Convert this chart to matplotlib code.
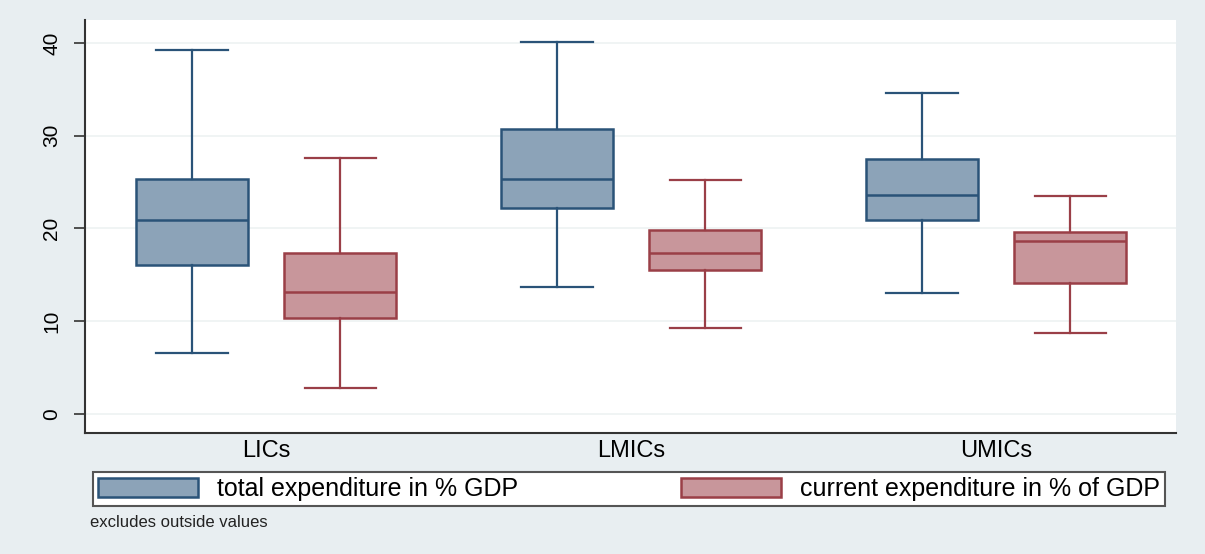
import matplotlib
matplotlib.use("Agg")
import matplotlib.pyplot as plt
from matplotlib.patches import Patch

# Income groups and box summaries (whisker low, Q1, median, Q3, whisker high)
groups = ["LICs", "LMICs", "UMICs"]
series_names = ["total expenditure in % GDP", "current expenditure in % of GDP"]

total_low = [6.6, 13.7, 13.0]
total_q1 = [16.1, 22.2, 20.9]
total_med = [20.9, 25.3, 23.6]
total_q3 = [25.3, 30.7, 27.5]
total_high = [39.2, 40.1, 34.6]

current_low = [2.8, 9.3, 8.7]
current_q1 = [10.3, 15.5, 14.1]
current_med = [13.1, 17.3, 18.6]
current_q3 = [17.3, 19.8, 19.6]
current_high = [27.6, 25.2, 23.5]

note = "excludes outside values"
yticks = [0, 10, 20, 30, 40]

bg = "#e8eef1"
navy_edge = "#2a5378"
navy_fill = "#8ca3b8"
red_edge = "#9a3f47"
red_fill = "#c8969b"


def make_stats(low, q1, med, q3, high):
    return [dict(whislo=a, q1=b, med=c, q3=d, whishi=e, fliers=[])
            for a, b, c, d, e in zip(low, q1, med, q3, high)]


plt.rcParams["font.family"] = ["Liberation Sans", "DejaVu Sans"]

fig = plt.figure(figsize=(12.05, 5.54), dpi=100, facecolor=bg)
ax = fig.add_axes([0.0705, 0.2184, 0.9055, 0.7455])
ax.set_facecolor("white")

offset = 0.203
width = 0.307
cap = 0.195
centers = list(range(len(groups)))

for stats, shift, edge, fill in [
    (make_stats(total_low, total_q1, total_med, total_q3, total_high), -offset, navy_edge, navy_fill),
    (make_stats(current_low, current_q1, current_med, current_q3, current_high), offset, red_edge, red_fill),
]:
    ax.bxp(stats, positions=[c + shift for c in centers], widths=width,
           capwidths=cap, patch_artist=True, showfliers=False,
           boxprops=dict(facecolor=fill, edgecolor=edge, linewidth=1.8),
           medianprops=dict(color=edge, linewidth=1.8),
           whiskerprops=dict(color=edge, linewidth=1.6),
           capprops=dict(color=edge, linewidth=1.6))

ax.set_xlim(-0.496, 2.493)
ax.set_ylim(-2.05, 42.46)
ax.set_xticks(centers)
ax.set_xticklabels(groups, fontsize=17)
ax.set_yticks(yticks)
ax.set_yticklabels([str(t) for t in yticks], fontsize=15, rotation=90, va="center")

ax.tick_params(axis="x", length=0, pad=5)
ax.tick_params(axis="y", length=8, width=1.2, color="#333333", pad=9)
ax.grid(axis="y", color="#edf2f2", linewidth=1.2)
ax.set_axisbelow(True)

for side in ["top", "right"]:
    ax.spines[side].set_visible(False)
for side in ["left", "bottom"]:
    ax.spines[side].set_color("#333333")
    ax.spines[side].set_linewidth(1.5)

handles = [Patch(facecolor=navy_fill, edgecolor=navy_edge, linewidth=1.8),
           Patch(facecolor=red_fill, edgecolor=red_edge, linewidth=1.8)]
leg = fig.legend(handles, series_names, loc="lower left", ncol=2, mode="expand",
                 bbox_to_anchor=(0.0772, 0.0866, 0.8896, 0.068),
                 fontsize=18, handlelength=4.0, handleheight=0.8,
                 handletextpad=0.75, borderpad=0.2, borderaxespad=0,
                 fancybox=False, framealpha=1, edgecolor="#555555")
leg.get_frame().set_linewidth(1.5)

fig.text(0.0747, 0.057, note, fontsize=12, va="center", ha="left", color="#222222")

fig.savefig("out.png", dpi=100, facecolor=bg)
